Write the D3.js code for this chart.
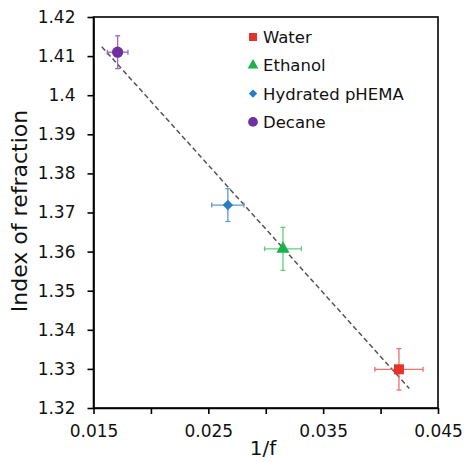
<!DOCTYPE html>
<html>
<head>
<meta charset="utf-8">
<script src="https://cdn.jsdelivr.net/npm/d3@7"></script>
<style>
  html, body { margin: 0; padding: 0; background: #fff; }
  svg { display: block; font-family: "DejaVu Sans", sans-serif; }
</style>
</head>
<body>
<svg id="chart" width="464" height="462"></svg>
<script>
// ---- data ----
const categories = ["Water", "Ethanol", "Hydrated pHEMA", "Decane"];
const xValues = [0.0416, 0.0315, 0.0267, 0.0171];
const yValues = [1.3299, 1.3607, 1.3719, 1.4110];
const xErrors = [0.0021, 0.0016, 0.0014, 0.0009];
const yErrors = [0.0053, 0.0055, 0.0042, 0.0042];
const colors = ["#e5322b", "#1db04b", "#2b7bc4", "#7030a0"];
const barColors = ["#f07067", "#5fcf7f", "#5e9ad6", "#9a66c6"];
const symbols = [d3.symbolSquare, d3.symbolTriangle, d3.symbolDiamond2, d3.symbolCircle];
const symbolSizes = [100, 75, 70, 100];
const legendSizes = [64, 50, 45, 75];
const fitX = [0.01572, 0.0425];
const fitY = [1.4124, 1.3250];
const xTicks = [0.015, 0.020, 0.025, 0.030, 0.035, 0.040, 0.045];
const xTickLabels = ["0.015", "", "0.025", "", "0.035", "", "0.045"];
const yTicks = [1.32, 1.33, 1.34, 1.35, 1.36, 1.37, 1.38, 1.39, 1.40, 1.41, 1.42];
const yTickLabels = ["1.32", "1.33", "1.34", "1.35", "1.36", "1.37", "1.38", "1.39", "1.4", "1.41", "1.42"];

// ---- layout ----
const L = 93.5, R = 438, T = 17, B = 408;
const svg = d3.select("#chart");
const x = d3.scaleLinear().domain([0.015, 0.045]).range([L, R]);
const y = d3.scaleLinear().domain([1.32, 1.42]).range([B, T]);

// frame
svg.append("rect").attr("x", L).attr("y", T).attr("width", R - L).attr("height", B - T)
  .attr("fill", "none").attr("stroke", "#000").attr("stroke-width", 1.6);

// axes
const xAxis = d3.axisBottom(x).tickValues(xTicks)
  .tickFormat((d, i) => xTickLabels[i]).tickSize(6).tickPadding(11).tickSizeOuter(0);
const gx = svg.append("g").attr("transform", `translate(0,${B})`).call(xAxis);
const yAxis = d3.axisLeft(y).tickValues(yTicks)
  .tickFormat((d, i) => yTickLabels[i]).tickSize(6).tickPadding(12).tickSizeOuter(0);
const gy = svg.append("g").attr("transform", `translate(${L},0)`).call(yAxis);
[gx, gy].forEach(g => {
  g.select(".domain").attr("stroke", "#000").attr("stroke-width", 1.6);
  g.selectAll(".tick line").attr("stroke", "#000").attr("stroke-width", 1.6);
  g.selectAll(".tick text").attr("fill", "#111").style("font-size", "17px")
    .style("font-family", "'DejaVu Sans', sans-serif");
});

// axis titles
svg.append("text").attr("x", 263).attr("y", 455).attr("text-anchor", "middle")
  .style("font-size", "20px").attr("fill", "#111").text("1/f");
svg.append("text").attr("transform", "translate(27,211) rotate(-90)")
  .attr("text-anchor", "middle").style("font-size", "22px").attr("fill", "#111")
  .text("Index of refraction");

// fit line
svg.append("line")
  .attr("x1", x(fitX[0])).attr("y1", y(fitY[0]))
  .attr("x2", x(fitX[1])).attr("y2", y(fitY[1]))
  .attr("stroke", "#555").attr("stroke-width", 1.5).attr("stroke-dasharray", "5,3");

// error bars & points
const pts = categories.map((c, i) => ({ c, i, x: xValues[i], y: yValues[i], ex: xErrors[i], ey: yErrors[i] }));
const gp = svg.append("g");
pts.forEach(p => {
  const g = gp.append("g").attr("stroke", barColors[p.i]).attr("stroke-width", 1.3);
  const cx = x(p.x), cy = y(p.y);
  const x0 = x(p.x - p.ex), x1 = x(p.x + p.ex);
  const y0 = y(p.y - p.ey), y1 = y(p.y + p.ey);
  g.append("line").attr("x1", x0).attr("x2", x1).attr("y1", cy).attr("y2", cy);
  g.append("line").attr("x1", cx).attr("x2", cx).attr("y1", y0).attr("y2", y1);
  const c = 2.5;
  g.append("line").attr("x1", x0).attr("x2", x0).attr("y1", cy - c).attr("y2", cy + c);
  g.append("line").attr("x1", x1).attr("x2", x1).attr("y1", cy - c).attr("y2", cy + c);
  g.append("line").attr("x1", cx - c).attr("x2", cx + c).attr("y1", y0).attr("y2", y0);
  g.append("line").attr("x1", cx - c).attr("x2", cx + c).attr("y1", y1).attr("y2", y1);
  gp.append("path")
    .attr("d", d3.symbol().type(symbols[p.i]).size(symbolSizes[p.i])())
    .attr("transform", `translate(${cx},${cy})`)
    .attr("fill", colors[p.i]);
});

// legend
const lg = svg.append("g");
categories.forEach((c, i) => {
  const ly = 37 + i * 28.3;
  lg.append("path")
    .attr("d", d3.symbol().type(symbols[i]).size(legendSizes[i])())
    .attr("transform", `translate(253,${ly})`)
    .attr("fill", colors[i]);
  lg.append("text").attr("x", 263).attr("y", ly).attr("dy", "0.36em")
    .style("font-size", "16.5px").attr("fill", "#111").text(c);
});
</script>
</body>
</html>
